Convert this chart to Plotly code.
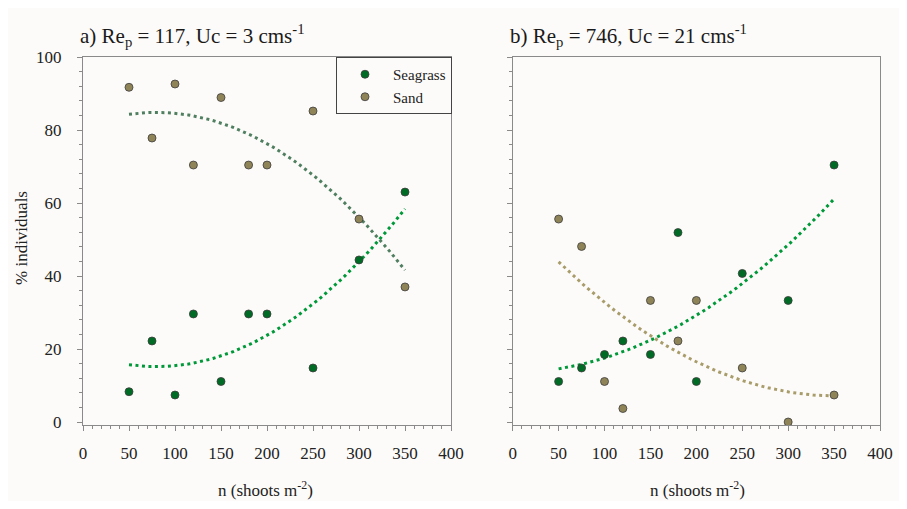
import numpy as np
import plotly.graph_objects as go

# ---- data ----
shoots = [50, 75, 100, 120, 150, 180, 200, 250, 300, 350]
seagrass_a = [8.3, 22.2, 7.4, 29.6, 11.1, 29.6, 29.6, 14.8, 44.4, 63.0]
sand_a = [91.7, 77.8, 92.6, 70.4, 88.9, 70.4, 70.4, 85.2, 55.6, 37.0]
seagrass_b = [11.1, 14.8, 18.5, 22.2, 18.5, 51.9, 11.1, 40.7, 33.3, 70.4]
sand_b = [55.6, 48.1, 11.1, 3.7, 33.3, 22.2, 33.3, 14.8, 0.0, 7.4]
x_ticks = [0, 50, 100, 150, 200, 250, 300, 350, 400]
y_ticks = [0, 20, 40, 60, 80, 100]

# page has an 8px body margin; figure sized so the page fits the window exactly
OFF = 8
W, H = 907 - 2 * OFF, 509 - 2 * OFF
FONT = "Liberation Serif, Times New Roman, Times, serif"
BG = "#fdfbf9"
C_SEA = "#006b24"
C_SAND = "#8f8458"
C_EDGE = "#3c3c3c"
C_SEA_FIT = "#00993a"
C_SAND_FIT_A = "#4f7f60"
C_SAND_FIT_B = "#a89c6a"
AX = "#8a8a8a"
TXT = "#222222"


def px(xr):
    return (xr - OFF) / W


def py(yr):
    return 1 - (yr - OFF) / H


def fit_curve(x, y):
    """Second-order polynomial regression of the data (trend line)."""
    coef = np.polyfit(x, y, 2)
    xs = np.linspace(min(x), max(x), 80)
    return xs, np.polyval(coef, xs)


fig = go.Figure()


def add_panel(sea, sand, xa, ya, sand_fit_color, show_legend):
    for yv, col in ((sea, C_SEA_FIT), (sand, sand_fit_color)):
        xs, ys = fit_curve(shoots, yv)
        fig.add_trace(go.Scatter(x=xs, y=ys, mode="lines", xaxis=xa, yaxis=ya,
                                 line=dict(color=col, width=3, dash="3px,3.5px"),
                                 showlegend=False, hoverinfo="skip"))
    fig.add_trace(go.Scatter(x=shoots, y=sea, mode="markers", name="Seagrass",
                             xaxis=xa, yaxis=ya, showlegend=show_legend,
                             marker=dict(color=C_SEA, size=8,
                                         line=dict(color=C_EDGE, width=0.8))))
    fig.add_trace(go.Scatter(x=shoots, y=sand, mode="markers", name="Sand",
                             xaxis=xa, yaxis=ya, showlegend=show_legend,
                             marker=dict(color=C_SAND, size=8,
                                         line=dict(color=C_EDGE, width=0.8))))


add_panel(seagrass_a, sand_a, "x", "y", C_SAND_FIT_A, True)
add_panel(seagrass_b, sand_b, "x2", "y2", C_SAND_FIT_B, False)

y_dom = [py(425), py(57)]
xdoms = [[px(83), px(451)], [px(512.7), px(880)]]

common_x = dict(range=[0, 400], tickvals=x_ticks, ticks="outside", ticklen=5,
                tickcolor=AX, showline=True, linecolor=AX, linewidth=1.2, mirror=True,
                showgrid=False, zeroline=False, automargin=False,
                minor=dict(dtick=10, ticks="outside", ticklen=3, tickcolor=AX, showgrid=False),
                tickfont=dict(family=FONT, size=17, color=TXT),
                ticklabelstandoff=7, fixedrange=True)
common_y = dict(range=[-0.82, 100], tickvals=y_ticks, ticks="outside", ticklen=5,
                tickcolor=AX, showline=True, linecolor=AX, linewidth=1.2, mirror=True,
                showgrid=False, zeroline=False, domain=y_dom, automargin=False,
                minor=dict(dtick=4, ticks="outside", ticklen=3, tickcolor=AX, showgrid=False),
                tickfont=dict(family=FONT, size=17, color=TXT),
                ticklabelstandoff=12, fixedrange=True)

fig.update_layout(
    template="none",
    width=W, height=H,
    margin=dict(l=0, r=0, t=0, b=0, pad=0, autoexpand=False),
    paper_bgcolor=BG, plot_bgcolor=BG,
    font=dict(family=FONT, size=17, color=TXT),
    xaxis=dict(common_x, domain=xdoms[0], anchor="y"),
    yaxis=dict(common_y, anchor="x"),
    xaxis2=dict(common_x, domain=xdoms[1], anchor="y2"),
    yaxis2=dict(common_y, anchor="x2", showticklabels=False),
    legend=dict(x=px(452), y=py(57), xanchor="right", yanchor="top",
                bgcolor=BG, bordercolor="#444", borderwidth=1,
                font=dict(family=FONT, size=15, color=TXT),
                itemwidth=46),
    showlegend=True,
)

annots = [
    dict(text="a) Re<sub>p</sub> = 117, Uc = 3 cms<sup>-1</sup>", x=px(78), y=py(36)),
    dict(text="b) Re<sub>p</sub> = 746, Uc = 21 cms<sup>-1</sup>", x=px(508), y=py(36)),
]
for a in annots:
    fig.add_annotation(xref="paper", yref="paper", xanchor="left", yanchor="middle",
                       showarrow=False, font=dict(family=FONT, size=21, color="#1a1a1a"), **a)

for xc in (265, 697):
    fig.add_annotation(text="n (shoots m<sup>-2</sup>)", xref="paper", yref="paper",
                       x=px(xc), y=py(489), xanchor="center", yanchor="middle",
                       showarrow=False, font=dict(family=FONT, size=17, color=TXT))

fig.add_annotation(text="% individuals", xref="paper", yref="paper", x=px(22),
                   y=py(238), xanchor="center", yanchor="middle", textangle=-90,
                   showarrow=False, font=dict(family=FONT, size=17, color=TXT))

fig.write_html("out.html")
